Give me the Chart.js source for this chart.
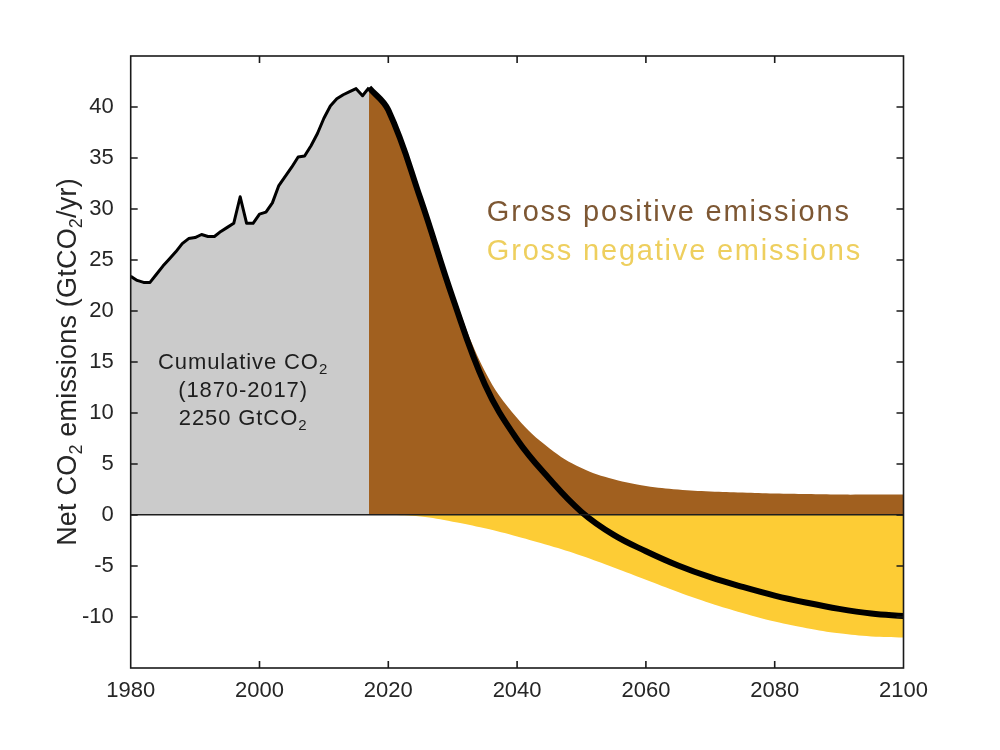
<!DOCTYPE html>
<html>
<head>
<meta charset="utf-8">
<script src="https://cdn.jsdelivr.net/npm/chart.js@4.4.1/dist/chart.umd.min.js"></script>
<style>
html,body{margin:0;padding:0;background:#ffffff;}
#wrap{width:1000px;height:750px;}
</style>
</head>
<body>
<div id="wrap"><canvas id="c" width="1000" height="750"></canvas></div>
<script>
// ---------- DATA ----------
const histYears = [1980,1981,1982,1983,1984,1985,1986,1987,1988,1989,1990,1991,1992,1993,1994,1995,1996,1997,1998,1999,2000,2001,2002,2003,2004,2005,2006,2007,2008,2009,2010,2011,2012,2013,2014,2015,2016,2017];
const histValues = [23.4,23.0,22.8,22.8,23.6,24.4,25.1,25.8,26.6,27.1,27.2,27.5,27.3,27.3,27.8,28.2,28.6,31.2,28.6,28.6,29.5,29.7,30.6,32.3,33.2,34.1,35.1,35.2,36.2,37.4,38.9,40.1,40.8,41.2,41.5,41.8,41.1,41.9];

const netYears = [2017,2020,2025,2030,2035,2040,2045,2050,2055,2060,2065,2070,2075,2080,2085,2090,2095,2100];
const netValues = [41.9,39.7,31.0,21.3,12.8,7.4,3.55,0.3,-1.95,-3.55,-4.95,-6.1,-7.05,-7.9,-8.6,-9.2,-9.65,-9.9];

const posYears = [2017,2020,2025,2030,2035,2040,2045,2050,2055,2060,2065,2070,2075,2080,2085,2090,2095,2100];
const posValues = [41.9,39.7,31.1,21.9,14.1,9.5,6.55,4.6,3.5,2.85,2.5,2.3,2.2,2.1,2.05,2.0,2.0,2.0];

const negYears = [2017,2020,2025,2030,2035,2040,2045,2050,2055,2060,2065,2070,2075,2080,2085,2090,2095,2100];
const negValues = [0,0,-0.15,-0.65,-1.3,-2.1,-3.0,-4.0,-5.15,-6.35,-7.55,-8.65,-9.6,-10.45,-11.1,-11.6,-11.9,-12.0];

const xTickValues = [1980,2000,2020,2040,2060,2080,2100];
const yTickValues = [-10,-5,0,5,10,15,20,25,30,35,40];

const cumulativeLines = [
  [{t:'Cumulative CO'},{t:'2',sub:true}],
  [{t:'(1870-2017)'}],
  [{t:'2250 GtCO'},{t:'2',sub:true}]
];
const yTitleParts = [{t:'Net CO'},{t:'2',sub:true},{t:' emissions (GtCO'},{t:'2',sub:true},{t:'/yr)'}];
const legendTexts = ['Gross positive emissions','Gross negative emissions'];

// ---------- STYLE ----------
const FONT = '"Liberation Sans", Arial, Helvetica, sans-serif';
const TEXT = '#262626';
const GREY = '#cbcbcb';
const BROWN = '#a1601f';
const YELLOW = '#fdcc35';
const BROWN_TEXT = '#7d5733';
const YELLOW_TEXT = '#eecf5e';
const SMOOTH = 0.4;

const toXY = (xs, ys) => xs.map((x, i) => ({x: x, y: ys[i]}));

function drawRich(ctx, parts, x, y, size, ls, align) {
  const subSize = Math.round(size * 0.68);
  const widths = parts.map(p => {
    ctx.font = (p.sub ? subSize : size) + 'px ' + FONT;
    ctx.letterSpacing = ls + 'px';
    return ctx.measureText(p.t).width;
  });
  const total = widths.reduce((a, b) => a + b, 0);
  let cx = align === 'center' ? x - total / 2 : x;
  ctx.textAlign = 'left';
  ctx.textBaseline = 'alphabetic';
  parts.forEach((p, i) => {
    ctx.font = (p.sub ? subSize : size) + 'px ' + FONT;
    ctx.letterSpacing = ls + 'px';
    ctx.fillText(p.t, cx, p.sub ? y + size * 0.22 : y);
    cx += widths[i];
  });
}

const framePlugin = {
  id: 'frame',
  afterDraw(chart) {
    const {ctx, chartArea: a, scales} = chart;
    const xs = scales.x, ys = scales.y;
    ctx.save();
    ctx.strokeStyle = '#1a1a1a';
    ctx.lineWidth = 1.6;
    ctx.strokeRect(a.left, a.top, a.right - a.left, a.bottom - a.top);
    const L = 7;
    ctx.beginPath();
    yTickValues.forEach(v => {
      const py = ys.getPixelForValue(v);
      ctx.moveTo(a.left, py); ctx.lineTo(a.left + L, py);
      ctx.moveTo(a.right, py); ctx.lineTo(a.right - L, py);
    });
    xTickValues.forEach(v => {
      if (v === xs.min || v === xs.max) return;
      const px = xs.getPixelForValue(v);
      ctx.moveTo(px, a.bottom); ctx.lineTo(px, a.bottom - L);
      ctx.moveTo(px, a.top); ctx.lineTo(px, a.top + L);
    });
    ctx.stroke();

    // cumulative annotation
    ctx.fillStyle = '#1e1e1e';
    const cx = xs.getPixelForValue(1997.45);
    const baseVals = [14.3, 11.55, 8.8];
    cumulativeLines.forEach((parts, i) => {
      drawRich(ctx, parts, cx, ys.getPixelForValue(baseVals[i]), 22, 0.9, 'center');
    });

    // legend texts
    const lx = xs.getPixelForValue(2035.3);
    ctx.fillStyle = BROWN_TEXT;
    drawRich(ctx, [{t: legendTexts[0]}], lx, ys.getPixelForValue(28.85), 29, 1.8, 'left');
    ctx.fillStyle = YELLOW_TEXT;
    drawRich(ctx, [{t: legendTexts[1]}], lx, ys.getPixelForValue(25.0), 29, 1.8, 'left');

    // y-axis title
    ctx.fillStyle = TEXT;
    ctx.translate(76, (a.top + a.bottom) / 2);
    ctx.rotate(-Math.PI / 2);
    drawRich(ctx, yTitleParts, 0, 0, 27, 0.2, 'center');
    ctx.restore();
  }
};

new Chart(document.getElementById('c'), {
  type: 'line',
  data: {
    datasets: [
      {
        label: 'Net emissions',
        data: toXY(netYears, netValues),
        borderColor: '#000000',
        borderWidth: 6,
        fill: false,
        pointRadius: 0,
        tension: SMOOTH,
        borderCapStyle: 'butt',
        borderJoinStyle: 'round',
        order: 1
      },
      {
        label: 'Historical',
        data: toXY(histYears, histValues),
        borderColor: '#000000',
        borderWidth: 3,
        backgroundColor: GREY,
        fill: 'origin',
        pointRadius: 0,
        tension: 0,
        borderJoinStyle: 'round',
        order: 2
      },
      {
        label: 'Gross positive emissions',
        data: toXY(posYears, posValues),
        borderWidth: 0,
        borderColor: 'rgba(0,0,0,0)',
        backgroundColor: BROWN,
        fill: 'origin',
        pointRadius: 0,
        tension: SMOOTH,
        order: 3
      },
      {
        label: 'Gross negative emissions',
        data: toXY(negYears, negValues),
        borderWidth: 0,
        borderColor: 'rgba(0,0,0,0)',
        backgroundColor: YELLOW,
        fill: 'origin',
        pointRadius: 0,
        tension: SMOOTH,
        order: 4
      }
    ]
  },
  options: {
    responsive: false,
    animation: false,
    devicePixelRatio: 1,
    layout: {padding: {left: 0, right: 96.5, top: 56, bottom: 0}},
    plugins: {legend: {display: false}, tooltip: {enabled: false}},
    scales: {
      x: {
        type: 'linear',
        position: 'bottom',
        min: 1980,
        max: 2100,
        afterBuildTicks: s => { s.ticks = xTickValues.map(v => ({value: v})); },
        afterFit: s => { s.height = 82; },
        grid: {display: false, drawTicks: false},
        border: {display: false},
        ticks: {
          font: {family: FONT, size: 22},
          color: TEXT,
          padding: 10,
          maxRotation: 0,
          autoSkip: false,
          callback: v => String(v)
        }
      },
      y: {
        type: 'linear',
        position: 'left',
        min: -15,
        max: 45,
        afterBuildTicks: s => { s.ticks = yTickValues.map(v => ({value: v})); },
        afterFit: s => { s.width = 130.7; },
        grid: {
          display: true,
          drawTicks: false,
          z: 1,
          lineWidth: 1.5,
          color: c => (c.tick && c.tick.value === 0) ? '#1e1e1e' : 'rgba(0,0,0,0)'
        },
        border: {display: false},
        ticks: {
          font: {family: FONT, size: 22},
          color: TEXT,
          padding: 17,
          autoSkip: false,
          callback: v => String(v)
        }
      }
    }
  },
  plugins: [framePlugin]
});
</script>
</body>
</html>
